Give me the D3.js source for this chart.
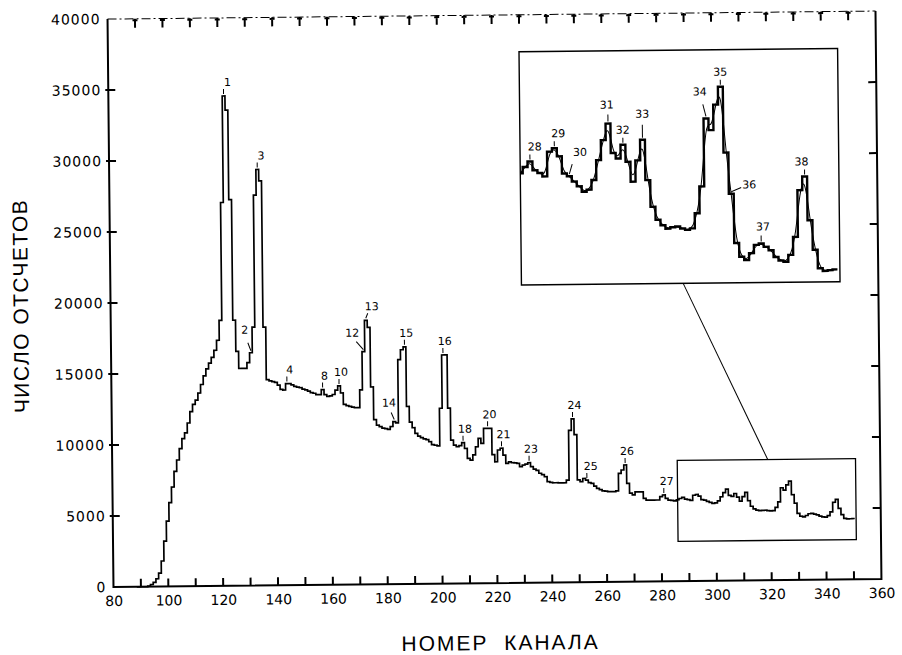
<!DOCTYPE html>
<html>
<head>
<meta charset="utf-8">
<script src="https://cdn.jsdelivr.net/npm/d3@7"></script>
<style>
  body { margin: 0; background: #fff; }
  svg { display: block; }
  .tick text { font-family: "DejaVu Sans", sans-serif; font-size: 14px; fill: #000; }
  .peak { font-family: "DejaVu Sans", sans-serif; font-size: 11px; fill: #000; }
</style>
</head>
<body>
<div id="chart"></div>
<script>
// spectrum: one value per channel, starting at channel 89
var firstChannel = 89;
var counts = [
  0, 0, 0, 0, 50, 150, 300, 550, 950, 1800,                               // 89-98
  3200, 4600, 5900, 7000, 8100, 8900, 9700, 10400, 10800, 11500,          // 99-108
  12300, 12800, 13100, 13600, 14200, 14800, 15300, 15700, 16100, 16600,   // 109-118
  17300, 18700, 27000, 34500, 33500, 27200, 18700, 16500, 15300, 15300,   // 119-128
  15300, 15700, 16400, 18200, 27500, 29300, 28500, 18200, 14500, 14400,   // 129-138
  14350, 14300, 14100, 13800, 13750, 14200, 14200, 14100, 14000, 13950,   // 139-148
  13900, 13800, 13750, 13650, 13550, 13500, 13400, 13400, 13750, 13400,   // 149-158
  13270, 13300, 13400, 13700, 14000, 13500, 12700, 12600, 12550, 12500,   // 159-168
  12450, 12450, 13700, 16400, 18600, 18100, 13900, 11600, 11200, 11100,   // 169-178
  11000, 10950, 10900, 11100, 11450, 11350, 15800, 16500, 16700, 12500,   // 179-188
  11400, 11000, 10600, 10400, 10300, 10200, 10150, 10000, 9800, 9750,     // 189-198
  9700, 12350, 16100, 16100, 12350, 10100, 9750, 9630, 9700, 9910,        // 199-208
  9500, 8800, 8680, 9040, 9610, 10200, 9850, 10900, 10900, 10900,         // 209-218
  9050, 8540, 9370, 9490, 9010, 8420, 8530, 8460, 8450, 8420,             // 219-228
  8180, 8290, 8350, 8450, 8170, 8000, 7900, 7700, 7600, 7450,             // 229-238
  7100, 7050, 7020, 7020, 7010, 7010, 7010, 7200, 10700, 11500,           // 239-248
  10400, 7200, 7080, 7300, 7190, 7000, 6950, 6750, 6600, 6500,            // 249-258
  6420, 6400, 6350, 6350, 6350, 6400, 7630, 7870, 8220, 6930,             // 259-268
  6230, 6110, 6320, 6320, 6320, 5860, 5730, 5730, 5730, 5730,             // 269-278
  5730, 5960, 6080, 5840, 5720, 5700, 5650, 5730, 5820, 5900,             // 279-288
  5770, 5730, 5680, 6040, 6090, 5970, 5720, 5680, 5600, 5530,             // 289-298
  5450, 5480, 5620, 5910, 6200, 6440, 6010, 5930, 6130, 5880,             // 299-308
  5590, 5900, 6200, 5610, 5220, 5030, 4950, 4900, 4920, 4930,             // 309-318
  4900, 4880, 4900, 5120, 5510, 6500, 6330, 6700, 6960, 6000,             // 319-328
  5400, 4680, 4480, 4430, 4530, 4650, 4670, 4620, 4570, 4470,             // 329-338
  4420, 4400, 4500, 4760, 5440, 5640, 5000, 4570, 4300, 4260,             // 339-348
  4270, 4280                                                              // 349-350
];

// numbered peaks on the main plot and in the magnified inset
var peakIds = [1, 2, 3, 4, 8, 10, 12, 13, 14, 15, 16, 18, 20, 21, 23, 24, 25, 26, 27];
var peakChannels = [122, 131, 134, 144, 157, 163, 172, 173, 183, 187, 201, 208, 217, 222, 232, 248, 253, 267, 281];
var insetIds = [28, 29, 30, 31, 32, 33, 34, 35, 36, 37, 38];
var insetChannels = [288, 293, 296, 304, 307, 311, 324, 327, 329, 335, 344];

var xLabelTicks = [80, 100, 120, 140, 160, 180, 200, 220, 240, 260, 280, 300, 320, 340, 360];
var xMinorTicks = [90, 100, 110, 120, 130, 140, 150, 160, 170, 180, 190, 200, 210, 220, 230, 240,
                   250, 260, 270, 280, 290, 300, 310, 320, 330, 340, 350];
var yTicks = [0, 5000, 10000, 15000, 20000, 25000, 30000, 35000, 40000];
var yInnerTicks = [5000, 10000, 15000, 20000, 25000, 30000, 35000];

// magnified window
var zoomChannels = [286, 351];
var zoomCounts = [2800, 8500];
var insetCountRange = [4100, 7500];
var connectChannel = 319;

var xTitle = "НОМЕР  КАНАЛА";
var yTitle = "ЧИСЛО ОТСЧЕТОВ";

// per-label nudges in pixels (text offset dx/dy, end of the marker line lx/ly)
var mainLayout = {
  1: {dx: 4}, 2: {dx: -6, dy: -19, lx: -3, ly: -10}, 3: {dx: 4}, 4: {dx: 3},
  12: {dx: -11, dy: -15, lx: -7, ly: -10}, 13: {dx: 6, lx: 2},
  14: {dx: -5, dy: -15, lx: -3, ly: -9}, 25: {dx: 4}, 27: {dx: 3}
};
var insetLayout = {
  28: {dx: 5}, 29: {dx: 4}, 30: {dx: 11, dy: -20, lx: 3, ly: -12},
  31: {dx: -1, dy: -15, ly: -9}, 33: {dy: -22, ly: -15},
  34: {dx: -6, dy: -23, lx: -3, ly: -14}, 36: {dx: 18, dy: -5, lx: 10, ly: -6},
  37: {dx: 2, dy: -13, ly: -8}, 38: {dx: -3}
};

var W = 902, H = 655;
var plot = {left: 110.5, right: 878.5, top: 15, bottom: 583};
var insetBox = {left: 521.6, right: 840.2, top: 52, bottom: 285.3};

var data = counts.map(function(v, i) { return {ch: firstChannel + i, y: v}; });
function countAt(ch) { return counts[ch - firstChannel]; }

var x = d3.scaleLinear().domain([80, 360]).range([plot.left, plot.right]);
var y = d3.scaleLinear().domain([0, 40000]).range([plot.bottom, plot.top]);
var xi = d3.scaleLinear().domain(zoomChannels).range([insetBox.left, insetBox.right]);
var yi = d3.scaleLinear().domain(insetCountRange).range([insetBox.bottom, insetBox.top]);

// bins are centred on the channel number
function stepPoints(rows) {
  var pts = rows.map(function(d) { return [d.ch - 0.5, d.y]; });
  var last = rows[rows.length - 1];
  pts.push([last.ch + 0.5, last.y]);
  return pts;
}

var svg = d3.select("#chart").append("svg")
    .attr("width", W)
    .attr("height", H);

svg.append("rect").attr("width", W).attr("height", H).attr("fill", "#fff");

// the scanned page sits slightly askew
var g = svg.append("g").attr("transform", "rotate(-0.6,500,300)");

// tick labels from d3 axes, frame drawn by hand below
g.append("g")
    .attr("transform", "translate(0," + plot.bottom + ")")
    .call(d3.axisBottom(x).tickValues(xLabelTicks).tickSize(0).tickPadding(9).tickFormat(d3.format("d")))
    .call(function(a) { a.select(".domain").remove(); });

g.append("g")
    .attr("transform", "translate(" + plot.left + ",0)")
    .call(d3.axisLeft(y).tickValues(yTicks).tickSize(0).tickPadding(7).tickFormat(d3.format("d")))
    .call(function(a) {
      a.select(".domain").remove();
      a.selectAll(".tick text").style("letter-spacing", "1px");
    });

// frame as one path, tick marks as a second path
var frame = d3.path();
frame.moveTo(plot.left, plot.top); frame.lineTo(plot.left, plot.bottom);
frame.lineTo(plot.right, plot.bottom); frame.lineTo(plot.right, plot.top);
g.append("path")
    .attr("d", frame.toString())
    .attr("fill", "none")
    .attr("stroke", "#000")
    .attr("stroke-width", 2);
g.append("line")   // top, broken in the scan
    .attr("x1", plot.left).attr("x2", plot.right)
    .attr("y1", plot.top).attr("y2", plot.top)
    .attr("stroke", "#000").attr("stroke-width", 1)
    .attr("stroke-dasharray", "9,3,2,3");

var ticks = d3.path();
xMinorTicks.forEach(function(d) {
  ticks.moveTo(x(d), plot.bottom); ticks.lineTo(x(d), plot.bottom - 8);   // bottom, pointing up
  ticks.moveTo(x(d), plot.top); ticks.lineTo(x(d), plot.top + 9);         // top, hanging down
  ticks.moveTo(x(d) - 2.5, plot.top + 1.5); ticks.lineTo(x(d) + 2.5, plot.top + 1.5);
});
yInnerTicks.forEach(function(d) {
  ticks.moveTo(plot.left - 3, y(d)); ticks.lineTo(plot.left + 7, y(d));
  ticks.moveTo(plot.right - 8, y(d)); ticks.lineTo(plot.right, y(d));
});
g.append("path")
    .attr("d", ticks.toString())
    .attr("fill", "none")
    .attr("stroke", "#000")
    .attr("stroke-width", 2);

// main spectrum
var mainLine = d3.line()
    .x(function(d) { return x(d[0]); })
    .y(function(d) { return y(d[1]); })
    .curve(d3.curveStepAfter);

g.append("path")
    .datum(stepPoints(data))
    .attr("d", mainLine)
    .attr("fill", "none")
    .attr("stroke", "#000")
    .attr("stroke-width", 1.7)
    .attr("stroke-linejoin", "miter");

// peak labels
function drawLabels(layer, ids, chans, layout, sx, sy, base) {
  ids.forEach(function(id, i) {
    var o = layout[id] || {};
    var ax = sx(chans[i]), ay = sy(countAt(chans[i]));
    var dx = o.dx != null ? o.dx : base.dx;
    var dy = o.dy != null ? o.dy : base.dy;
    var lx = o.lx != null ? o.lx : 0;
    var ly = o.ly != null ? o.ly : base.ly;
    layer.append("line")
        .attr("x1", ax).attr("y1", ay - 2)
        .attr("x2", ax + lx).attr("y2", ay + ly)
        .attr("stroke", "#000").attr("stroke-width", 1);
    layer.append("text")
        .attr("class", "peak")
        .attr("x", ax + dx).attr("y", ay + dy)
        .attr("text-anchor", "middle")
        .text(id);
  });
}
drawLabels(g, peakIds, peakChannels, mainLayout, x, y, {dx: 2, dy: -10, ly: -7});

// rectangle marking the magnified window
g.append("rect")
    .attr("x", x(zoomChannels[0]))
    .attr("y", y(zoomCounts[1]))
    .attr("width", x(zoomChannels[1]) - x(zoomChannels[0]))
    .attr("height", y(zoomCounts[0]) - y(zoomCounts[1]))
    .attr("fill", "none")
    .attr("stroke", "#000")
    .attr("stroke-width", 1.3);

// connector from inset to window
g.append("line")
    .attr("x1", xi(connectChannel)).attr("y1", insetBox.bottom)
    .attr("x2", x(connectChannel)).attr("y2", y(zoomCounts[1]))
    .attr("stroke", "#000").attr("stroke-width", 1);

// inset
var inset = g.append("g");
inset.append("clipPath").attr("id", "insetClip")
  .append("rect")
    .attr("x", insetBox.left).attr("y", insetBox.top)
    .attr("width", insetBox.right - insetBox.left)
    .attr("height", insetBox.bottom - insetBox.top);

inset.append("rect")
    .attr("x", insetBox.left).attr("y", insetBox.top)
    .attr("width", insetBox.right - insetBox.left)
    .attr("height", insetBox.bottom - insetBox.top)
    .attr("fill", "#fff")
    .attr("stroke", "#000")
    .attr("stroke-width", 1.4);

var insetData = data.filter(function(d) { return d.ch >= zoomChannels[0] && d.ch < zoomChannels[1]; });

// thin smooth curve through the channel values
inset.append("path")
    .datum(insetData)
    .attr("clip-path", "url(#insetClip)")
    .attr("d", d3.line()
        .x(function(d) { return xi(d.ch); })
        .y(function(d) { return yi(d.y); })
        .curve(d3.curveBasis))
    .attr("fill", "none")
    .attr("stroke", "#000")
    .attr("stroke-width", 1);

// bold histogram
inset.append("path")
    .datum(stepPoints(insetData))
    .attr("clip-path", "url(#insetClip)")
    .attr("d", d3.line()
        .x(function(d) { return xi(d[0]); })
        .y(function(d) { return yi(d[1]); })
        .curve(d3.curveStepAfter))
    .attr("fill", "none")
    .attr("stroke", "#000")
    .attr("stroke-width", 2.4);

drawLabels(inset, insetIds, insetChannels, insetLayout, xi, yi, {dx: 0, dy: -11, ly: -7});

// axis titles
g.append("text")
    .attr("x", 497).attr("y", 650)
    .attr("text-anchor", "middle")
    .attr("xml:space", "preserve")
    .style("white-space", "pre")
    .style("font-family", "'Liberation Sans', Arial, sans-serif")
    .style("font-size", "21px")
    .style("letter-spacing", "2px")
    .text(xTitle);

g.append("text")
    .attr("transform", "translate(28,301) rotate(-90)")
    .attr("text-anchor", "middle")
    .style("font-family", "'Liberation Sans', Arial, sans-serif")
    .style("font-size", "21px")
    .style("letter-spacing", "1.5px")
    .text(yTitle);
</script>
</body>
</html>
